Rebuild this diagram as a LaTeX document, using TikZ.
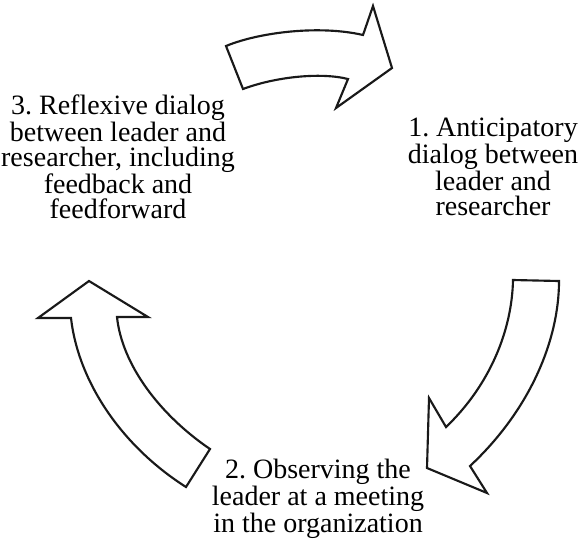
\documentclass[tikz,border=0pt]{standalone}
\usepackage{fontspec}
\setmainfont{Liberation Serif}
\frenchspacing
\begin{document}
\begin{tikzpicture}[x=0.75pt,y=-0.75pt,
  cyclearrow/.style={draw=black!90,line width=1.6pt,fill=white,line join=miter},
  steplabel/.style={align=center,font=\fontsize{21pt}{18.6pt}\selectfont,inner sep=0pt}]
\useasboundingbox (0,0) rectangle (580,547);

% curved arrow at the top: from step 3 to step 1
\draw[cyclearrow] (226,46) .. controls (260,32) and (320,25) .. (363,35)
  -- (373,6) -- (392,68) -- (336,108) -- (348,79)
  .. controls (320,72) and (275,77) .. (243,89) -- cycle;

% curved arrow on the right: from step 1 to step 2
\draw[cyclearrow] (513,280) -- (559,281)
  .. controls (559,340) and (530,410) .. (470,466)
  -- (487,493) -- (427,468) -- (429,398) -- (446,427)
  .. controls (490,385) and (512,330) .. (513,280) -- cycle;

% curved arrow on the left: from step 2 to step 3
\draw[cyclearrow] (186,487) .. controls (120,445) and (78,380) .. (71,318)
  -- (38,318) -- (89,281) -- (148,317) -- (117,317)
  .. controls (122,365) and (160,415) .. (210,449) -- cycle;

\node[steplabel] (s1) at (493,167) {1. Anticipatory\\dialog between\\leader and\\researcher};
\node[steplabel] (s2) at (318,499) {2. Observing the\\leader at a meeting\\in the organization};
\node[steplabel] (s3) at (118,157) {3. Reflexive dialog\\between leader and\\researcher, including\\feedback and\\feedforward};
\end{tikzpicture}
\end{document}
